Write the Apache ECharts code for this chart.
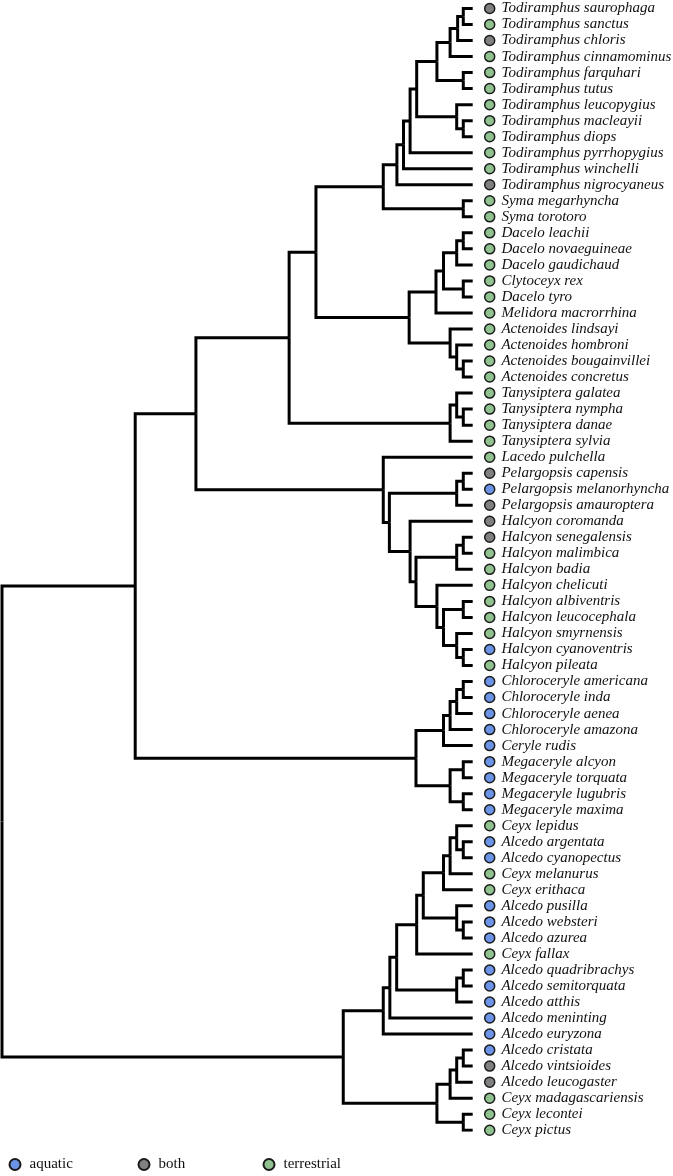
<!DOCTYPE html>
<html><head><meta charset="utf-8">
<script src="https://cdn.jsdelivr.net/npm/echarts@6/dist/echarts.min.js"></script>
<style>html,body{margin:0;padding:0;background:#fff}#c{width:673px;height:1176px}</style>
</head><body><div id="c"></div><script>
// ---- tip names (top to bottom) ----
const tipNames = [
 'Todiramphus saurophaga','Todiramphus sanctus','Todiramphus chloris','Todiramphus cinnamominus',
 'Todiramphus farquhari','Todiramphus tutus','Todiramphus leucopygius','Todiramphus macleayii',
 'Todiramphus diops','Todiramphus pyrrhopygius','Todiramphus winchelli','Todiramphus nigrocyaneus',
 'Syma megarhyncha','Syma torotoro','Dacelo leachii','Dacelo novaeguineae','Dacelo gaudichaud',
 'Clytoceyx rex','Dacelo tyro','Melidora macrorrhina','Actenoides lindsayi','Actenoides hombroni',
 'Actenoides bougainvillei','Actenoides concretus','Tanysiptera galatea','Tanysiptera nympha',
 'Tanysiptera danae','Tanysiptera sylvia','Lacedo pulchella','Pelargopsis capensis',
 'Pelargopsis melanorhyncha','Pelargopsis amauroptera','Halcyon coromanda','Halcyon senegalensis',
 'Halcyon malimbica','Halcyon badia','Halcyon chelicuti','Halcyon albiventris','Halcyon leucocephala',
 'Halcyon smyrnensis','Halcyon cyanoventris','Halcyon pileata','Chloroceryle americana',
 'Chloroceryle inda','Chloroceryle aenea','Chloroceryle amazona','Ceryle rudis','Megaceryle alcyon',
 'Megaceryle torquata','Megaceryle lugubris','Megaceryle maxima','Ceyx lepidus','Alcedo argentata',
 'Alcedo cyanopectus','Ceyx melanurus','Ceyx erithaca','Alcedo pusilla','Alcedo websteri',
 'Alcedo azurea','Ceyx fallax','Alcedo quadribrachys','Alcedo semitorquata','Alcedo atthis',
 'Alcedo meninting','Alcedo euryzona','Alcedo cristata','Alcedo vintsioides','Alcedo leucogaster',
 'Ceyx madagascariensis','Ceyx lecontei','Ceyx pictus'
];
// ---- habitat per tip: a = aquatic, b = both, t = terrestrial ----
const tipHabitat = [
 'b','t','b','t','t','t','t','t','t','t','t','b',
 't','t','t','t','t','t','t','t','t','t','t','t','t','t','t','t','t',
 'b','a','b','b','b',
 't','t','t','t','t','t',
 'a','t',
 'a','a','a','a','a','a','a','a','a',
 't','a','a','t','t','a','a','a','t',
 'a','a','a','a','a','a',
 'b','b',
 't','t','t'
];
const habitatKeys = ['a','b','t'];
const habitatLabels = ['aquatic','both','terrestrial'];
const habitatColors = ['#6b93e6','#808080','#8fc28f'];

// ---- tree topology (tip indices) with node depths (tips at depth 100) ----
const tipDepth = 100;
const cladeTodiramphusSyma = "(((((((((0,1):98,2):96.8,3):95.2,(4,5):98):92.4,(6,(7,8):98):96.6):88.1,9):86.7,10):85.3,11):83.9,(12,13):98):81";
const cladeDaceloActenoides = "(((((14,15):98,16):96.6,(17,18):98):93.8,19):92.2,(20,(21,(22,23):98):96.6):95.2):86.5";
const cladeTanysiptera = "((24,(25,26):98):96.6,27):95.2";
const cladePelargopsis = "((29,30):98,31):96.6";
const cladeHalcyon = "(32,(((33,34):98,35):96.6,(36,((37,38):98,(39,(40,41):98):96.6):93.8):92.4):87.95):86.7";
const cladeCerylinae = "(((((42,43):98,44):96.6,45):95.2,46):93.8,((47,48):98,(49,50):98):95.2):87.95";
const cladeAlcedoA = "(((51,(52,53):98):96.6,54):95.2,55):93.8";
const cladeAlcedoB = "(56,(57,58):98):96.6";
const cladeAlcedoC = "((60,61):98,62):96.6";
const cladeAlcedoD = "((((65,66):98,67):96.6,68):95.2,(69,70):98):92.4";

const depthHalcyoninaeTop = 66.7, depthTany = 61, depthLacedo = 81, depthPelHal = 82.3;
const depthHalcyoninae = 41.2, depthCoraciiA = 28.3;
const depthAlc1 = 89.5, depthAlc2 = 88.1, depthAlc3 = 83.85, depthAlc4 = 82.4, depthAlc5 = 81, depthAlcedininae = 72.5;

const treeString =
 "(" +
   "(" +
     "(" + "((" + cladeTodiramphusSyma + "," + cladeDaceloActenoides + "):" + depthHalcyoninaeTop + "," + cladeTanysiptera + "):" + depthTany + "," +
           "(28,(" + cladePelargopsis + "," + cladeHalcyon + "):" + depthPelHal + "):" + depthLacedo +
     "):" + depthHalcyoninae + "," + cladeCerylinae +
   "):" + depthCoraciiA + "," +
   "(" +
     "(((" + "((" + cladeAlcedoA + "," + cladeAlcedoB + "):" + depthAlc1 + ",59):" + depthAlc2 + "," + cladeAlcedoC + "):" + depthAlc3 + ",63):" + depthAlc4 + ",64):" + depthAlc5 + "," +
     cladeAlcedoD +
   "):" + depthAlcedininae +
 "):0";

// ---- parse ----
function parseTree(s) {
  s = s.replace(/\s+/g, '');
  let i = 0;
  function readNum() { let n = ''; while (i < s.length && /[0-9.]/.test(s[i])) n += s[i++]; return parseFloat(n); }
  function node() {
    if (s[i] === '(') {
      i++; const a = node(); i++; const b = node(); i++; // ')'
      let d = 0; if (s[i] === ':') { i++; d = readNum(); }
      return { children: [a, b], depth: d };
    }
    return { tip: readNum() };
  }
  return node();
}
const root = parseTree(treeString);
function layout(n) {
  if (n.children) {
    n.children.forEach(layout);
    n.x = n.depth;
    n.y = (n.children[0].y + n.children[1].y) / 2;
  } else { n.x = tipDepth; n.y = n.tip; }
}
layout(root);
const edges = [];
(function walk(n) {
  if (!n.children) return;
  n.children.forEach(c => {
    edges.push({ coords: [[n.x, n.y], [n.x, c.y], [c.x, c.y]] });
    walk(c);
  });
})(root);

const chart = echarts.init(document.getElementById('c'), null, { renderer: 'canvas' });
const scatterSeries = habitatKeys.map((k, hi) => ({
  type: 'scatter', name: habitatLabels[hi], z: 5,
  symbol: 'circle', symbolSize: 10, symbolOffset: [17, 0],
  itemStyle: { color: habitatColors[hi], borderColor: '#1a1a1a', borderWidth: 1.5, opacity: 1 },
  label: { show: true, position: 'right', distance: 6, formatter: p => p.data[2],
    fontFamily: 'Liberation Serif', fontStyle: 'italic', fontSize: 15, color: '#111' },
  emphasis: { disabled: true },
  data: tipNames.map((nm, i) => [tipDepth, i, nm]).filter((d, i) => tipHabitat[i] === k)
}));
const legendLefts = [8.5, 137.5, 262.5];
chart.setOption({
  animation: false,
  backgroundColor: '#fff',
  grid: { left: 2, right: 200.3, top: 8.5, bottom: 45.8 },
  xAxis: { type: 'value', min: 0, max: tipDepth, show: false },
  yAxis: { type: 'value', min: 0, max: tipNames.length - 1, inverse: true, show: false },
  legend: habitatLabels.map((lab, hi) => ({
    left: legendLefts[hi], top: 1157, padding: 0, itemWidth: 11, itemHeight: 11, icon: 'circle',
    selectedMode: false,
    textStyle: { fontFamily: 'Liberation Serif', fontSize: 15, color: '#111', padding: [0, 0, 0, 4] },
    data: [lab]
  })),
  series: [{
    type: 'lines', coordinateSystem: 'cartesian2d', polyline: true, silent: true, z: 2,
    lineStyle: { color: '#000', width: 3, opacity: 1, cap: 'butt', join: 'miter' },
    data: edges
  }].concat(scatterSeries)
});
</script></body></html>
